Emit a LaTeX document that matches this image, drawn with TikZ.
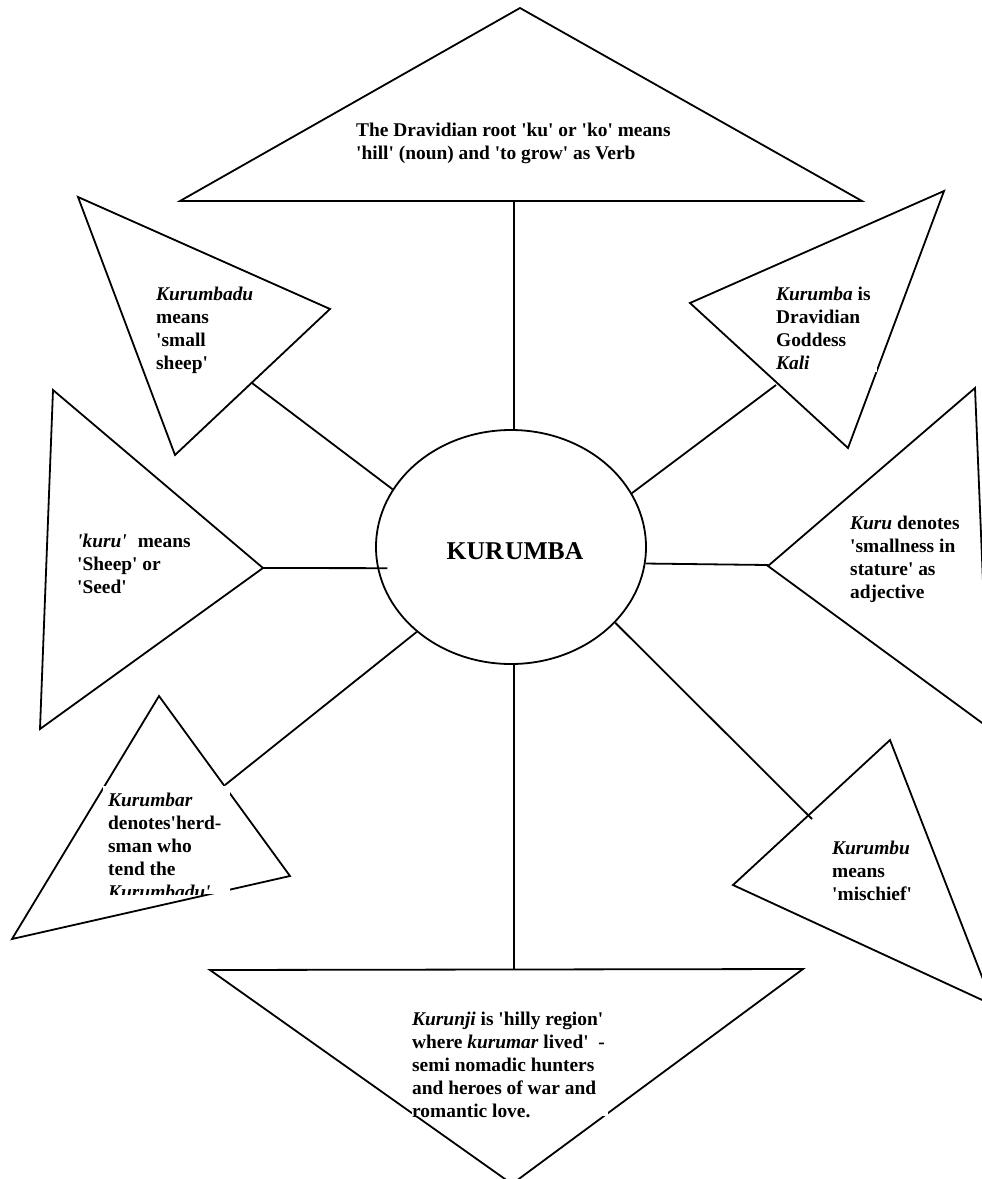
\documentclass[tikz,border=0pt]{standalone}
\usepackage{fontspec}
\setmainfont{Liberation Serif}[Ligatures=TeXOff]
\usetikzlibrary{shapes.geometric}
\begin{document}
\begin{tikzpicture}[x=1pt,y=-1pt,
  tri/.style={draw, line width=1.8pt, line join=miter},
  edge/.style={line width=1.8pt},
  txt/.style={anchor=north west, inner sep=0pt, align=left,
    font=\fontsize{19.4}{23}\selectfont\bfseries},
  hubstyle/.style={ellipse, draw, line width=1.8pt, minimum width=270pt,
    minimum height=234pt, inner sep=0pt},
  hubtxt/.style={inner sep=0pt, font=\fontsize{25.6}{30}\selectfont\bfseries}]
\useasboundingbox (0,0) rectangle (982,1179);
\clip (0,0) rectangle (982,1179);

% central ellipse and its title
\node[hubstyle] (hub) at (511,547) {};
\node[hubtxt] (hubtext) at (515,551) {KUR\kern1.5pt UMBA};

% triangle corners
\coordinate (ta) at (520,8);   \coordinate (tb) at (862,201); \coordinate (tc) at (180,201);
\coordinate (ula) at (78,197); \coordinate (ulb) at (330,309); \coordinate (ulc) at (175,455);
\coordinate (ura) at (944,191); \coordinate (urb) at (848,448); \coordinate (urc) at (690,303);
\coordinate (la) at (53,390);  \coordinate (lb) at (263,568);  \coordinate (lc) at (40,729);
\coordinate (ra) at (975,388); \coordinate (rb) at (989,728);  \coordinate (rc) at (768,566);
\coordinate (lla) at (159,696); \coordinate (llb) at (290,876); \coordinate (llc) at (12,939);
\coordinate (lra) at (890,740); \coordinate (lrb) at (993,1005); \coordinate (lrc) at (733,885);
\coordinate (ba) at (210,970); \coordinate (bb) at (803,969); \coordinate (bc) at (512,1184);

% connector ends on the triangles
\coordinate (tm) at (514,201);
\coordinate (ulm) at (252,383);
\coordinate (urm) at (776,385);
\coordinate (rm) at (768,565);
\coordinate (lrm) at (812,819);
\coordinate (bm) at (514,970);
\coordinate (llm) at (225,785);

% triangles
\draw[tri] (ta) -- (tb) -- (tc) -- cycle;
\draw[tri] (ula) -- (ulb) -- (ulc) -- cycle;
\draw[tri] (ura) -- (urb) -- (urc) -- cycle;
\draw[tri] (la) -- (lb) -- (lc) -- cycle;
\draw[tri] (ra) -- (rb) -- (rc) -- cycle;
\draw[tri] (lla) -- (llb) -- (llc) -- cycle;
\draw[tri] (lra) -- (lrb) -- (lrc) -- cycle;
\draw[tri] (ba) -- (bb) -- (bc) -- cycle;

% spokes
\draw[edge] (tm) -- (tm |- hub.north);
\draw[edge] (ulm) -- (hub.154);
\draw[edge] (urm) -- (hub.24);
\draw[edge] (lb) -- ([xshift=10pt]hub.-171);
\draw[edge] (rm) -- (hub.-7);
\draw[edge] (llm) -- (hub.222.5);
\draw[edge] (lrm) -- (hub.-36);
\draw[edge] (bm) -- (bm |- hub.south);

% text frames
\fill[white] (776,282) rectangle (877,372);
\fill[white] (412,1006) rectangle (608,1116);
\fill[white] (103,786) rectangle (230,894);

% texts
\node[txt] (ttop) at (356,123) {The Dravidian root 'ku' or 'ko' means\\'hill' (noun) and 'to grow' as Verb};
\node[txt] (tul) at (156,287) {\textit{Kurumbadu}\\means\\'small\\sheep'};
\node[txt] (tur) at (776,287) {\textit{Kurumba} is\\Dravidian\\Goddess\\\textit{Kali}};
\node[txt] (tl) at (77,534) {\textit{'kuru'}\hspace{11pt}means\\'Sheep' or\\'Seed'};
\node[txt] (tr) at (850,516) {\textit{Kuru} denotes\\'smallness in\\stature' as\\adjective};
\node[txt] (tlr) at (832,841) {\textit{Kurumbu}\\means\\'mischief'};
\node[txt] (tb) at (412,1012) {\textit{Kurunji} is 'hilly region'\\where \textit{kurumar} lived'\ \ -\\semi nomadic hunters\\and heroes of war and\\romantic love.};
\begin{scope}
  \clip (103,786) rectangle (230,894);
  \node[txt] (tll) at (108,793) {\textit{Kurumbar}\\denotes'herd-\\sman who\\tend the\\\textit{Kurumbadu'}};
\end{scope}
\end{tikzpicture}
\end{document}
